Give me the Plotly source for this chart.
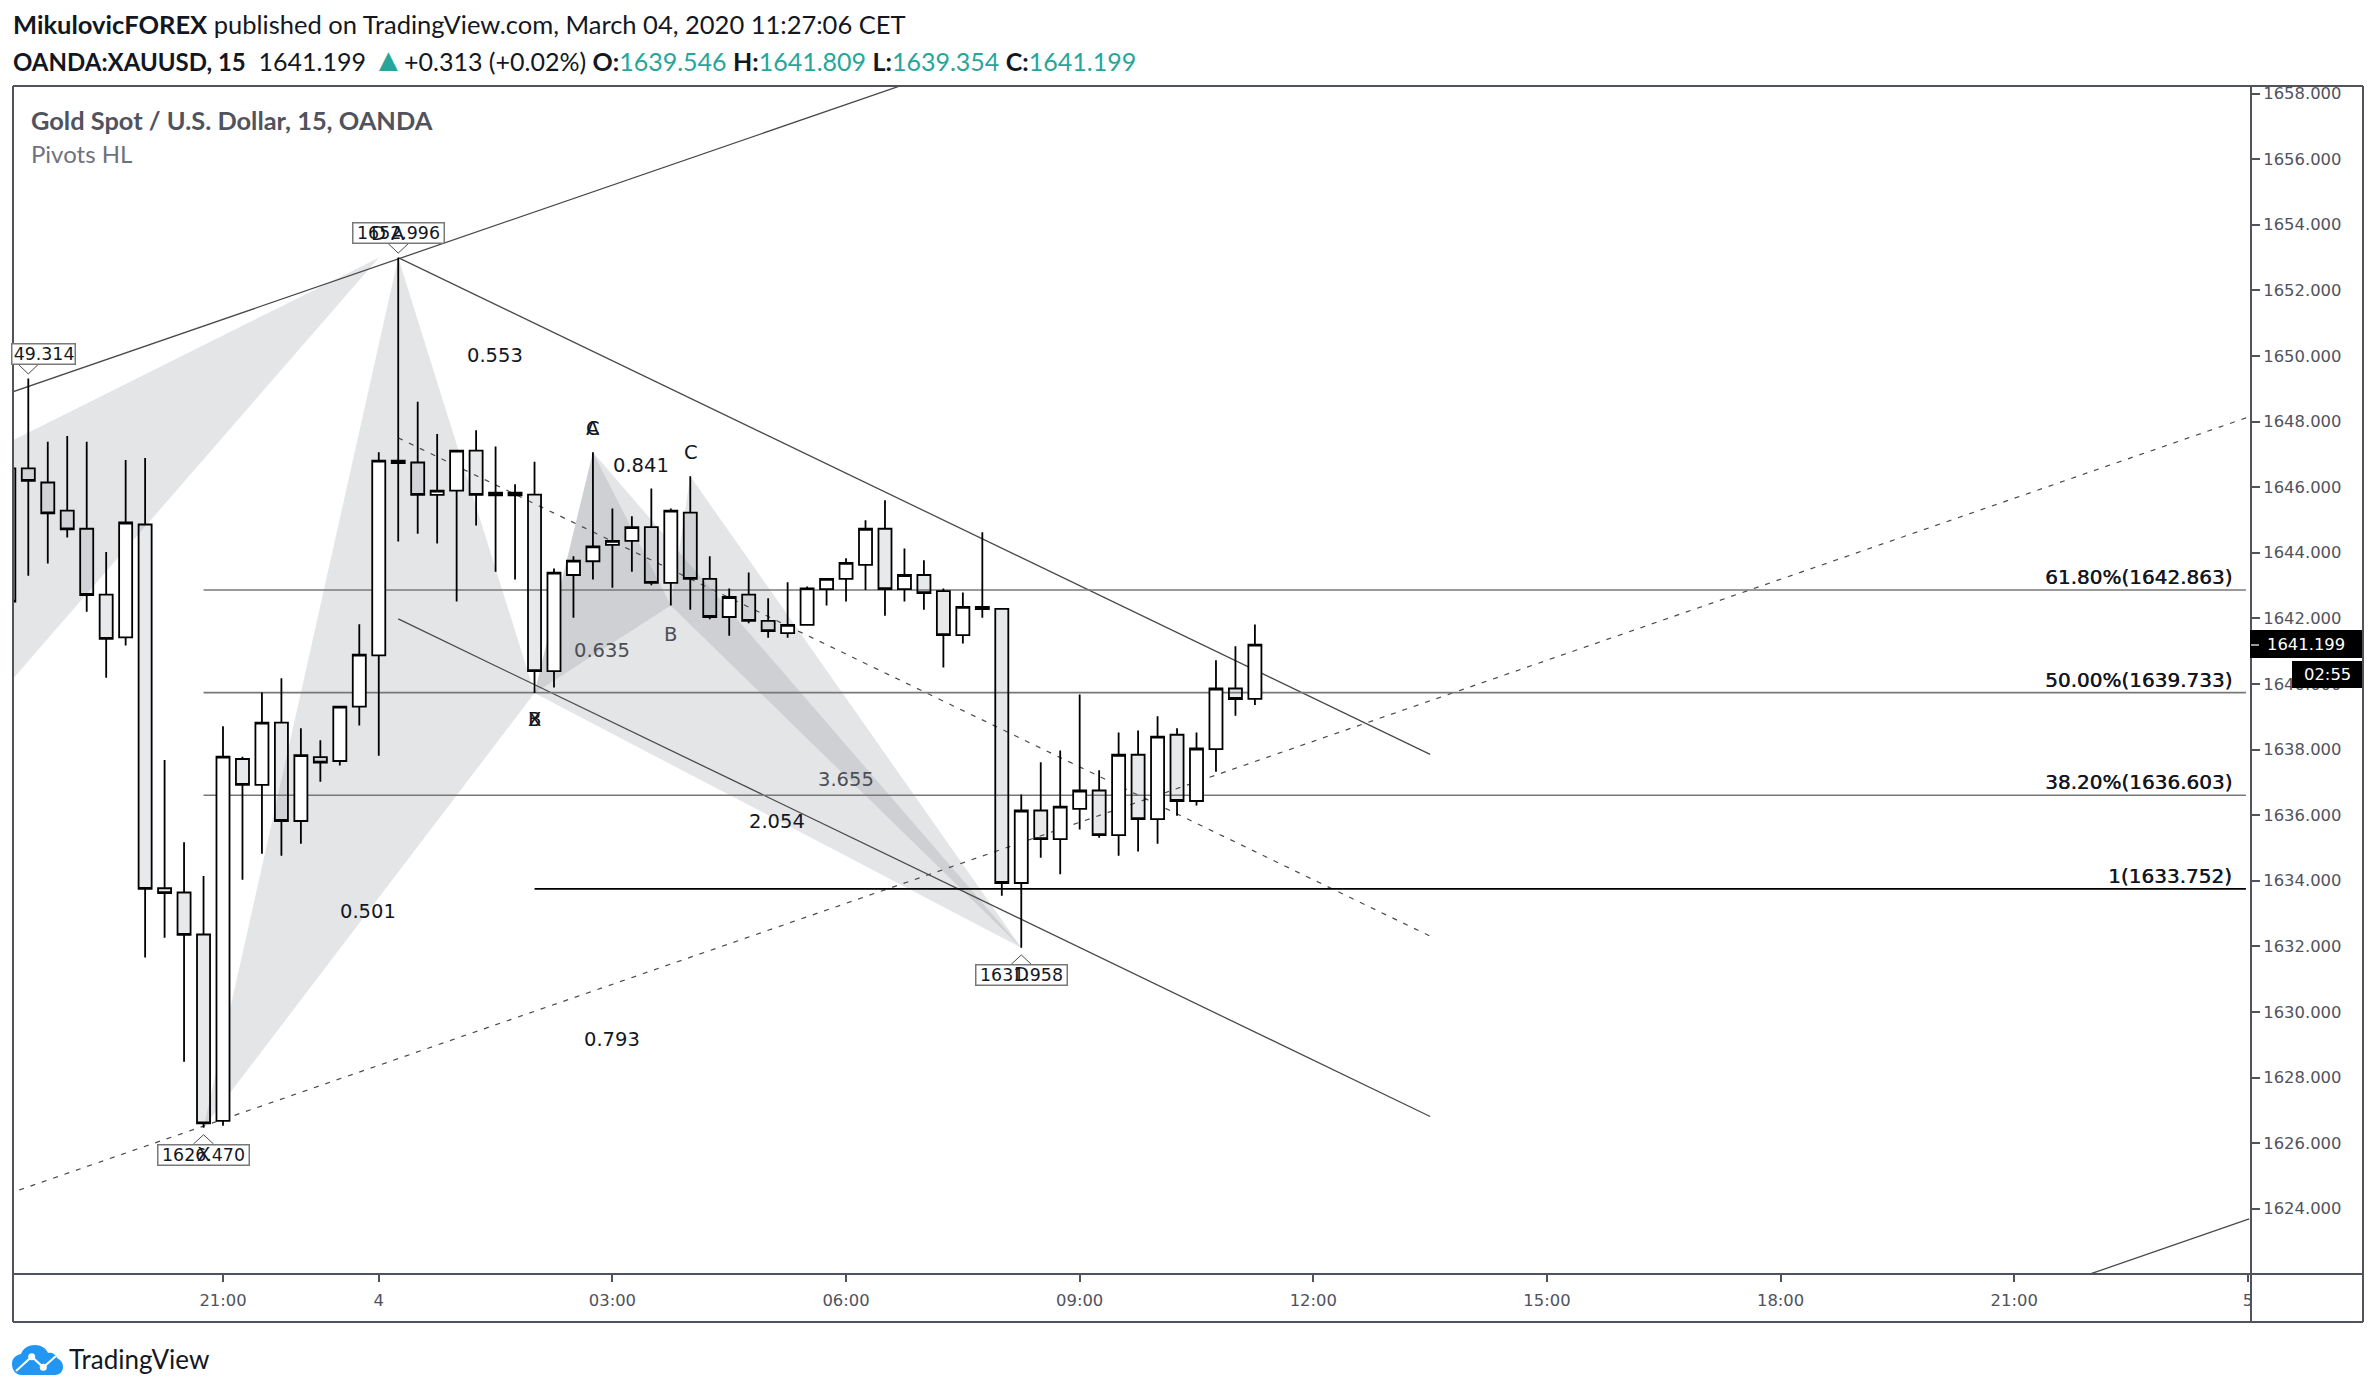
import plotly.graph_objects as go

# ---------- candles ----------
bars = list(range(-11, 54))
opens = [1646.57, 1646.57, 1646.14, 1645.28, 1644.73, 1642.72, 1641.42, 1644.86, 1633.77, 1633.64, 1632.36,
         1626.68, 1637.71, 1636.92, 1638.82, 1635.82, 1637.77, 1637.65, 1639.31, 1640.87, 1646.73,
         1646.75, 1645.76, 1645.89, 1647.11, 1645.75, 1645.75, 1645.77, 1640.39, 1643.32, 1643.74,
         1644.24, 1644.36, 1644.78, 1643.08, 1645.22, 1643.2, 1642.04, 1642.72, 1641.92, 1641.55,
         1641.8, 1642.89, 1643.2, 1643.63, 1644.73, 1642.89, 1643.32, 1642.83, 1641.49, 1642.28,
         1642.29, 1633.93, 1636.14, 1635.27, 1636.19, 1636.75, 1635.39, 1637.84, 1635.88, 1638.45,
         1636.43, 1638.01, 1639.86, 1639.546]
highs = [1646.57, 1649.314, 1647.38, 1647.56, 1647.38, 1644.02, 1646.83, 1646.89, 1637.68, 1635.17, 1634.14,
         1638.71, 1637.78, 1639.74, 1640.17, 1638.65, 1638.28, 1639.31, 1641.82, 1647.06, 1652.996,
         1648.6, 1647.62, 1647.13, 1647.73, 1647.24, 1646.09, 1646.77, 1643.52, 1643.89, 1647.06,
         1645.35, 1645.11, 1645.96, 1645.35, 1646.33, 1643.89, 1642.91, 1643.4, 1642.61, 1643.1,
         1642.97, 1643.2, 1643.83, 1644.99, 1645.6, 1644.13, 1643.77, 1642.91, 1642.79, 1644.62,
         1642.29, 1636.63, 1637.61, 1637.97, 1639.68, 1637.365, 1638.52, 1638.58, 1639.01, 1638.65,
         1638.52, 1640.72, 1641.15, 1641.809]
lows = [1642.51, 1643.3, 1643.67, 1644.46, 1642.2, 1640.19, 1641.17, 1631.66, 1632.26, 1628.48, 1626.47,
        1626.53, 1634.03, 1634.82, 1634.76, 1635.13, 1637.02, 1637.51, 1638.73, 1637.81, 1644.34,
        1644.58, 1644.28, 1642.51, 1644.83, 1643.42, 1643.18, 1639.72, 1639.89, 1642.02, 1643.18,
        1642.93, 1643.42, 1643.01, 1642.39, 1642.26, 1641.97, 1641.47, 1641.85, 1641.41, 1641.41,
        1641.8, 1642.39, 1642.51, 1642.86, 1642.08, 1642.51, 1642.26, 1640.5, 1641.23, 1642.02,
        1633.54, 1631.958, 1634.7, 1634.2, 1635.56, 1635.31, 1634.76, 1634.89, 1635.13, 1635.98,
        1636.29, 1637.32, 1639.03, 1639.354]
closes = [1642.51, 1646.19, 1645.2, 1644.71, 1642.71, 1641.37, 1644.92, 1633.75, 1633.62, 1632.35, 1626.6,
          1637.78, 1636.92, 1638.82, 1635.82, 1637.83, 1637.6, 1639.31, 1640.89, 1646.81, 1646.81,
          1645.76, 1645.89, 1647.11, 1645.76, 1645.83, 1645.83, 1640.39, 1643.39, 1643.76, 1644.19,
          1644.36, 1644.78, 1643.08, 1645.28, 1643.2, 1642.04, 1642.65, 1641.92, 1641.61, 1641.8,
          1642.91, 1643.2, 1643.69, 1644.73, 1642.89, 1643.32, 1642.77, 1641.49, 1642.35, 1642.35,
          1633.93, 1636.14, 1635.27, 1636.26, 1636.75, 1635.39, 1637.84, 1635.88, 1638.39, 1636.43,
          1638.03, 1639.86, 1639.54, 1641.199]

price_ticks = list(range(1624, 1660, 2))
time_ticks = [0, 8, 20, 32, 44, 56, 68, 80, 92, 104]
time_labels = ["21:00", "4", "03:00", "06:00", "09:00", "12:00", "15:00", "18:00", "21:00", "5"]

# ---------- drawings ----------
# harmonic pattern triangles (bar, price)
wedge_left = [(-12, 1647.07), (8, 1652.996), (-12, 1639.33)]
wedge_xab = [(-1, 1626.47), (9, 1652.996), (16, 1639.72)]
wedge_bcd = [(16, 1639.72), (19, 1647.06), (41, 1631.958)]
wedge_xab2 = [(16, 1639.72), (19, 1647.06), (23, 1642.39)]
wedge_bcd2 = [(23, 1642.39), (24, 1646.33), (41, 1631.958)]

# trend lines (bar0, price0, bar1, price1)
solid_lines = [(-12, 1648.66, 40, 1659.3),
               (9, 1652.996, 62, 1637.85),
               (9, 1641.98, 62, 1626.81),
               (95.9, 1622.01, 104.07, 1623.69)]
dashed_lines = [(9, 1647.5, 62, 1632.31),
                (-10.47, 1624.57, 104.1, 1648.15)]

fib_levels = [1642.863, 1639.733, 1636.603]
fib_texts = ["61.80%(1642.863)", "50.00%(1639.733)", "38.20%(1636.603)"]
one_level = 1633.752
one_text = "1(1633.752)"

# pattern text: text, bar, price, colour
DARK = "#131722"
SOFT = "#4c4e56"
pattern_texts = [("0.553", 13.97, 1650.0, DARK), ("0.841", 21.49, 1646.65, DARK),
                 ("0.635", 19.48, 1641.01, SOFT), ("B", 23, 1641.52, SOFT),
                 ("C", 24.04, 1647.07, DARK), ("A", 19, 1647.8, DARK), ("C", 19, 1647.8, DARK),
                 ("X", 16, 1638.9, DARK), ("B", 16, 1638.9, DARK), ("3.655", 31.98, 1637.1, SOFT),
                 ("2.054", 28.46, 1635.82, DARK), ("0.501", 7.45, 1633.05, DARK),
                 ("0.793", 19.98, 1629.17, DARK)]

# ---------- page geometry in pixels ----------
W, H = 2376, 1396
LEFT, RIGHT, TOP, BOTTOM = 13, 2251, 86, 1274
OUT_R, OUT_B = 2363, 1322
STEP = 19.47
AXIS = "#50535E"
TEAL = "#26A69A"


def px(x):
    return (x - LEFT) / (RIGHT - LEFT)


def py(y):
    return (BOTTOM - y) / (BOTTOM - TOP)


def price_y(y):
    return 1634 + (880.7 - y) / 32.8


x_range = [(LEFT - 223) / STEP, (RIGHT - 223) / STEP]
y_range = [price_y(BOTTOM), price_y(TOP)]

shapes = []

# grey triangles, below the candles
for wedge in [wedge_left, wedge_xab, wedge_bcd, wedge_xab2, wedge_bcd2]:
    path = "M " + " L ".join(f"{b},{p}" for b, p in wedge) + " Z"
    shapes.append(dict(type="path", path=path, xref="x", yref="y", layer="below",
                       fillcolor="rgba(120,123,134,0.2)", line=dict(width=0)))

for x0, y0, x1, y1 in solid_lines:
    shapes.append(dict(type="line", x0=x0, y0=y0, x1=x1, y1=y1, xref="x", yref="y", layer="below",
                       line=dict(color="#4a4a4a", width=1.3)))
for x0, y0, x1, y1 in dashed_lines:
    shapes.append(dict(type="line", x0=x0, y0=y0, x1=x1, y1=y1, xref="x", yref="y", layer="below",
                       line=dict(color="#4a4a4a", width=1.2, dash="5px 7px")))
for lev in fib_levels:
    shapes.append(dict(type="line", x0=-1, y0=lev, x1=103.9, y1=lev, xref="x", yref="y", layer="below",
                       line=dict(color="#787878", width=1.6)))
shapes.append(dict(type="line", x0=16, y0=one_level, x1=103.9, y1=one_level, xref="x", yref="y",
                   layer="below", line=dict(color="#000000", width=1.8)))

# pointers under/over the boxed pivot prices
for bar, price, path in [(9, 1652.996, "M -10,14 L 0,4.5 L 10,14"),
                         (-10, 1649.314, "M -10,14 L 0,4.5 L 10,14"),
                         (-1, 1626.47, "M -10,-16.3 L 0,-7.1 L 10,-16.3"),
                         (41, 1631.958, "M -10,-16.6 L 0,-7.3 L 10,-16.6")]:
    shapes.append(dict(type="path", path=path, xref="x", yref="y", xsizemode="pixel", ysizemode="pixel",
                       xanchor=bar, yanchor=price, layer="above", line=dict(color="#4a4a4a", width=1)))

# white patch for the label that runs under the price scale, then frame
shapes.append(dict(type="rect", xref="paper", yref="paper", x0=px(RIGHT), x1=px(OUT_R), y0=py(OUT_B), y1=py(BOTTOM),
                   fillcolor="white", line=dict(width=0), layer="above"))
frame = [(LEFT, TOP, OUT_R, TOP), (LEFT, TOP, LEFT, OUT_B), (LEFT, OUT_B, OUT_R, OUT_B), (OUT_R, TOP, OUT_R, OUT_B),
         (LEFT, BOTTOM, OUT_R, BOTTOM), (RIGHT, TOP, RIGHT, OUT_B)]
for x0, y0, x1, y1 in frame:
    shapes.append(dict(type="line", xref="paper", yref="paper", x0=px(x0), y0=py(y0), x1=px(x1), y1=py(y1),
                       layer="above", line=dict(color=AXIS, width=2)))

# last price and countdown tags
shapes.append(dict(type="rect", xref="paper", yref="paper", x0=px(2250), x1=px(2362), y0=py(658), y1=py(630),
                   fillcolor="black", line=dict(width=0), layer="above"))
shapes.append(dict(type="rect", xref="paper", yref="paper", x0=px(2292), x1=px(2362), y0=py(688), y1=py(661),
                   fillcolor="black", line=dict(width=0), layer="above"))
shapes.append(dict(type="line", xref="paper", yref="paper", x0=px(2251), x1=px(2259), y0=py(645), y1=py(645),
                   layer="above", line=dict(color="#9a9a9a", width=2)))

# TradingView logo
cloud = ("M 22,1375 C 14,1375 12,1368 12,1364 C 12,1358 16,1355 21,1354 C 23,1348 29,1345 35,1345 "
         "C 41,1345 46,1348 48,1353 C 51,1352 56,1354 57,1358 C 61,1360 63,1363 63,1367 "
         "C 63,1372 59,1375 55,1375 Z")


def to_paper(path):
    out = []
    for tok in path.split():
        if "," in tok:
            a, b = tok.split(",")
            out.append(f"{px(float(a))},{py(float(b))}")
        else:
            out.append(tok)
    return " ".join(out)


shapes.append(dict(type="path", path=to_paper(cloud), xref="paper", yref="paper", layer="above",
                   fillcolor="#2196F3", line=dict(width=0)))
shapes.append(dict(type="path", path=to_paper("M 16,1371 L 31.7,1356.7 L 43.3,1367.3 L 56,1356"), xref="paper",
                   yref="paper", layer="above", line=dict(color="white", width=2)))
for cx, cy in [(31.7, 1356.7), (43.3, 1367.3)]:
    shapes.append(dict(type="circle", xref="paper", yref="paper", x0=px(cx - 3.5), x1=px(cx + 3.5),
                       y0=py(cy + 3.5), y1=py(cy - 3.5), fillcolor="white", line=dict(width=0), layer="above"))

# ---------- text ----------
SANS = "DejaVu Sans"
HEAD = "Lato"
ann = []


def page_text(text, x, y, size, color, family=HEAD):
    ann.append(dict(text=text, xref="paper", yref="paper", x=px(x), y=py(y), xanchor="left", yanchor="middle",
                    showarrow=False, font=dict(family=family, size=size, color=color)))


def teal(s):
    return f'<span style="color:{TEAL}">{s}</span>'


page_text("<b>MikulovicFOREX</b> published on TradingView.com, March 04, 2020 11:27:06 CET", 11, 24, 25.5, "#131722")
page_text('<b style="font-size:24px">OANDA:XAUUSD, 15</b>  1641.199 '
          + f'<span style="color:{TEAL};font-size:32px">▲</span>'
          + "+0.313 (+0.02%) <b>O:</b>" + teal("1639.546")
          + " <b>H:</b>" + teal("1641.809") + " <b>L:</b>" + teal("1639.354") + " <b>C:</b>" + teal("1641.199"),
          11, 58, 25, "#131722")
page_text("<b>Gold Spot / U.S. Dollar, 15, OANDA</b>", 29, 120, 25.4, AXIS)
page_text("Pivots HL", 29, 154, 24, "#6f727c")
page_text("TradingView", 67, 1359, 26, "#131722")

for text, bar, price, color in pattern_texts:
    ann.append(dict(text=text, x=bar, y=price, showarrow=False, font=dict(family=SANS, size=19.5, color=color)))

for lev, text in zip(fib_levels + [one_level], fib_texts + [one_text]):
    ann.append(dict(text=text, x=px(2234), xref="paper", y=lev, yshift=13, xanchor="right", showarrow=False,
                    font=dict(family=SANS, size=20, color="#131722", shadow="0.5px 0 0 #131722")))

# boxed pivot prices
for text, bar, price, shift in [("1652.996", 9, 1652.996, 24.5),
                                ("1631.958", 41, 1631.958, -27),
                                ("1626.470", -1, 1626.47, -27)]:
    ann.append(dict(text=text, x=bar, y=price, yshift=shift, showarrow=False, width=90, height=19, bgcolor="white",
                    bordercolor="#787878", borderwidth=1.5, borderpad=0, font=dict(family=SANS, size=17.4, color="#131722")))
ann.append(dict(text="49.314", xref="paper", x=px(75.5), xanchor="right", y=1649.314, yshift=24.5, showarrow=False,
                width=62, height=19, align="right", bgcolor="white", bordercolor="#787878", borderwidth=1.5,
                borderpad=0, font=dict(family=SANS, size=17.4, color="#131722")))
for text, bar, price, shift in [("D", 8, 1652.996, 24.5), ("A", 9, 1652.996, 24.5),
                                ("X", -1, 1626.47, -27), ("D", 41, 1631.958, -27)]:
    ann.append(dict(text=text, x=bar, y=price, yshift=shift, showarrow=False,
                    font=dict(family=SANS, size=19.5, color="#131722")))

ann.append(dict(text="1641.199", xref="paper", yref="paper", x=px(2306), y=py(644), xanchor="center",
                yanchor="middle", showarrow=False, font=dict(family=SANS, size=16.4, color="white")))
ann.append(dict(text="02:55", xref="paper", yref="paper", x=px(2327), y=py(674), xanchor="center",
                yanchor="middle", showarrow=False, font=dict(family=SANS, size=16.4, color="white")))

# ---------- figure ----------
fig = go.Figure(go.Candlestick(
    x=bars, open=opens, high=highs, low=lows, close=closes, whiskerwidth=0,
    increasing=dict(line=dict(color="black", width=1.8), fillcolor="white"),
    decreasing=dict(line=dict(color="black", width=1.8), fillcolor="rgba(120,123,134,0.17)"),
))
fig.update_layout(
    width=W, height=H,
    margin=dict(l=LEFT, r=W - RIGHT, t=TOP, b=H - BOTTOM, pad=0),
    paper_bgcolor="white", plot_bgcolor="white",
    showlegend=False, boxgap=0.33, boxgroupgap=0,
    shapes=shapes, annotations=ann,
    xaxis=dict(range=x_range, rangeslider=dict(visible=False), showgrid=False, zeroline=False, showline=False,
               tickmode="array", tickvals=time_ticks, ticktext=time_labels, ticks="outside", ticklen=7, tickwidth=2,
               tickcolor=AXIS, ticklabelstandoff=4, tickfont=dict(family=SANS, size=16.4, color=AXIS)),
    yaxis=dict(range=y_range, side="right", showgrid=False, zeroline=False, showline=False,
               tickmode="array", tickvals=price_ticks, ticktext=[f"{v}.000" for v in price_ticks],
               ticks="outside", ticklen=8, tickwidth=2, tickcolor=AXIS,
               tickfont=dict(family=SANS, size=16.4, color=AXIS)),
)
fig.write_html("out.html", config=dict(displayModeBar=False), post_script="document.body.style.margin='0';")
